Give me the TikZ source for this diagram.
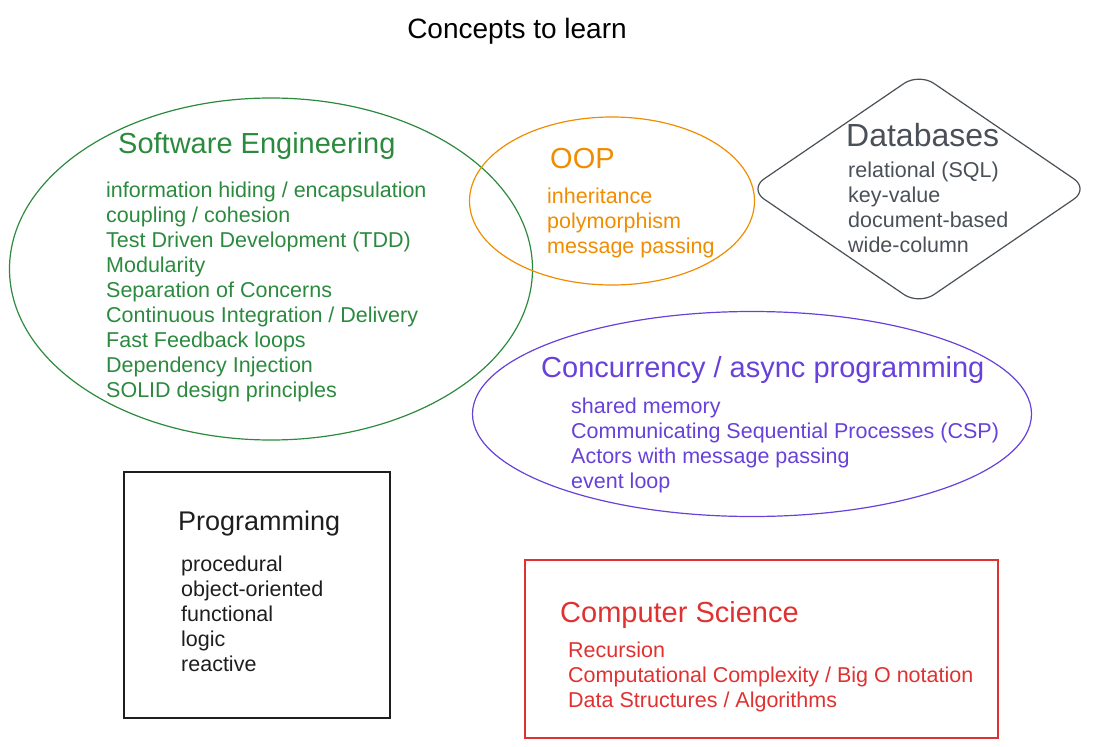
\documentclass[tikz,border=0pt]{standalone}
\usepackage{fontspec}
\setmainfont{Liberation Sans}
\usetikzlibrary{shapes.geometric,positioning}
\definecolor{segreen}{HTML}{2B8A3E}
\definecolor{ooporange}{HTML}{F08C00}
\definecolor{dbgray}{HTML}{495057}
\definecolor{ccpurple}{HTML}{6741D9}
\definecolor{csred}{HTML}{E03131}
\definecolor{progblack}{HTML}{1E1E1E}
\begin{document}
\begin{tikzpicture}[x=1pt, y=-1pt,
    blob/.style = {draw, line width=1.2pt, inner sep=0pt},
    heading/.style = {anchor=base west, inner sep=0pt, font=\fontsize{29}{35}\selectfont},
    entry/.style = {anchor=base west, inner sep=0pt, font=\fontsize{21.5}{25}\selectfont}]
    \useasboundingbox (0,0) rectangle (1101,747);

    % Titolo
    \node[font=\fontsize{28}{34}\selectfont, anchor=base, inner sep=0pt] (title) at (517,38) {Concepts to learn};

    % Software Engineering
    \node[blob, ellipse, segreen, minimum width=523pt, minimum height=342pt] (se) at (271,269) {};
    \node[heading, segreen] (seHead) at (118,153) {Software Engineering};
    \foreach \t [count=\i] in {information hiding / encapsulation, coupling / cohesion,
        Test Driven Development (TDD), Modularity, Separation of Concerns,
        Continuous Integration / Delivery, Fast Feedback loops,
        Dependency Injection, SOLID design principles}
        \node[entry, segreen] (se\i) at (106,{197+25*(\i-1)}) {\t};

    % OOP
    \node[blob, ellipse, ooporange, minimum width=285pt, minimum height=168pt] (oop) at (612,201) {};
    \node[heading, ooporange] (oopHead) at (550,168) {OOP};
    \foreach \t [count=\i] in {inheritance, polymorphism, message passing}
        \node[entry, ooporange] (oop\i) at (547,{203+25*(\i-1)}) {\t};

    % Databases
    \node[blob, diamond, dbgray, rounded corners=18pt, minimum width=340pt, minimum height=232pt] (db) at (919,189) {};
    \node[heading, dbgray, font=\fontsize{32}{38}\selectfont] (dbHead) at (846,146) {Databases};
    \foreach \t [count=\i] in {relational (SQL), key-value, document-based, wide-column}
        \node[entry, dbgray] (db\i) at (848,{177+25*(\i-1)}) {\t};

    % Concurrency
    \node[blob, ellipse, ccpurple, minimum width=559pt, minimum height=205pt] (cc) at (752,414) {};
    \node[heading, ccpurple] (ccHead) at (541,377) {Concurrency / async programming};
    \foreach \t [count=\i] in {shared memory, Communicating Sequential Processes (CSP),
        Actors with message passing, event loop}
        \node[entry, ccpurple] (cc\i) at (571,{413+25*(\i-1)}) {\t};

    % Programming
    \node[blob, rectangle, progblack, minimum width=266pt, minimum height=246pt] (prog) at (257,595) {};
    \node[heading, progblack, font=\fontsize{27}{33}\selectfont] (progHead) at (178,530) {Programming};
    \foreach \t [count=\i] in {procedural, object-oriented, functional, logic, reactive}
        \node[entry, progblack] (prog\i) at (181,{571+25*(\i-1)}) {\t};

    % Computer Science
    \node[blob, rectangle, csred, minimum width=473pt, minimum height=178pt] (cs) at (761.5,649) {};
    \node[heading, csred] (csHead) at (560,622) {Computer Science};
    \foreach \t [count=\i] in {Recursion, Computational Complexity / Big O notation,
        Data Structures / Algorithms}
        \node[entry, csred] (cs\i) at (568,{657+25*(\i-1)}) {\t};

\end{tikzpicture}
\end{document}
